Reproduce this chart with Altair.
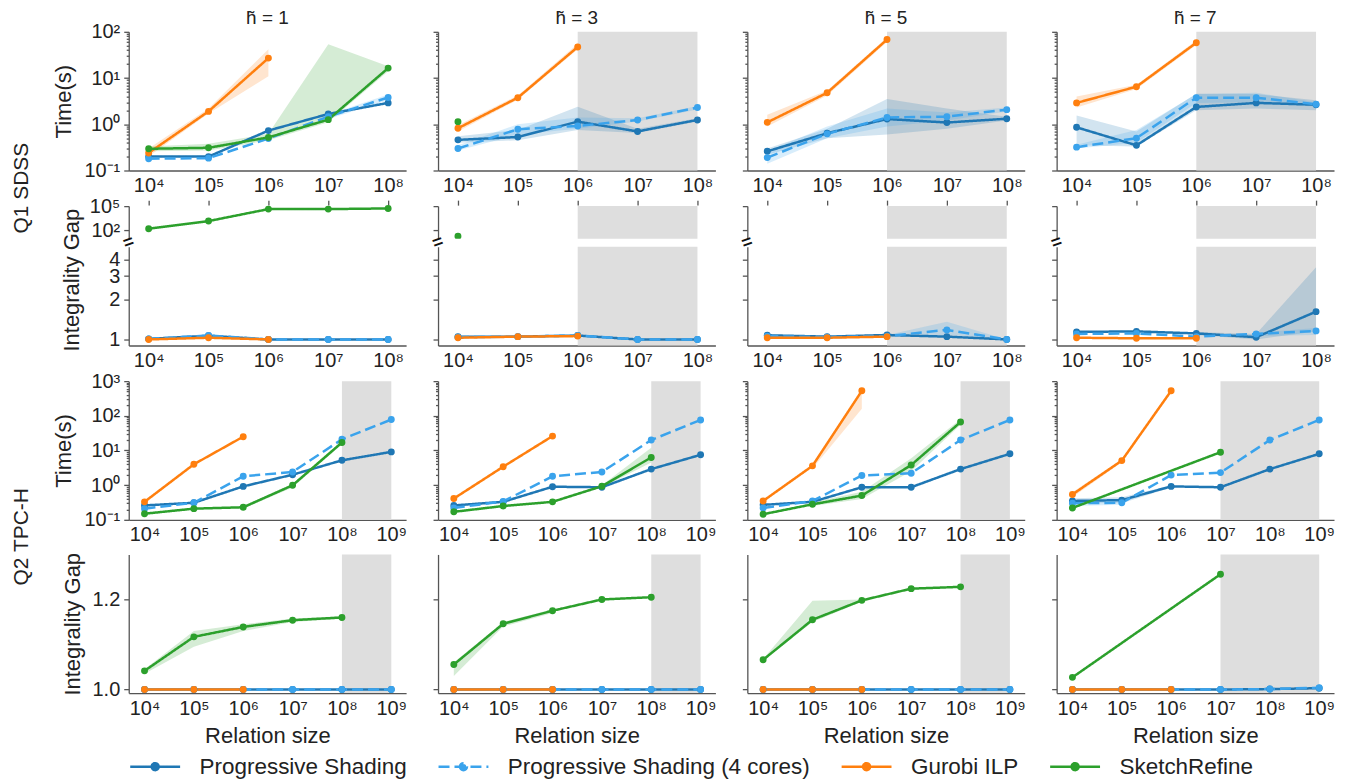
import altair as alt
import pandas as pd

# ---------------- data ----------------
SERIES = ["Progressive Shading", "Progressive Shading (4 cores)", "Gurobi ILP", "SketchRefine"]
COLORS = ["#1f77b4", "#3aa3ec", "#ff7f0e", "#2ca02c"]
DASHES = [[1, 0], [11, 5], [1, 0], [1, 0]]
COL_TITLES = ["h\u0303 = 1", "h\u0303 = 3", "h\u0303 = 5", "h\u0303 = 7"]
ROW_TITLES = ["Q1 SDSS", "Q2 TPC-H"]
Q1_SIZES = [1e4, 1e5, 1e6, 1e7, 1e8]
Q2_SIZES = [1e4, 1e5, 1e6, 1e7, 1e8, 1e9]

# Q1 SDSS - time (s), one list per column
Q1_TIME_PS = [[0.20, 0.20, 0.73, 1.67, 2.9],
              [0.46, 0.53, 1.14, 0.70, 1.24],
              [0.26, 0.64, 1.30, 1.09, 1.32],
              [0.86, 0.35, 2.37, 2.9, 2.65]]
Q1_TIME_PS4 = [[0.18, 0.185, 0.49, 1.46, 3.8],
               [0.30, 0.78, 0.92, 1.24, 2.3],
               [0.19, 0.62, 1.4, 1.46, 2.07],
               [0.32, 0.50, 3.76, 3.76, 2.7]]
Q1_TIME_ILP = [[0.24, 1.9, 27, None, None],
               [0.82, 3.76, 47, None, None],
               [1.1, 4.8, 68, None, None],
               [2.9, 6.5, 58, None, None]]
Q1_TIME_SR = [[0.295, 0.31, 0.52, 1.26, 16.4],
              [1.14, None, None, None, None],
              [None, None, None, None, None],
              [None, None, None, None, None]]

# Q1 SDSS - integrality gap
Q1_GAP_PS = [[1.01, 1.066, 1.0, 1.0, 1.0],
             [1.047, 1.05, 1.07, 1.0, 1.0],
             [1.075, 1.05, 1.08, 1.05, 1.0],
             [1.14, 1.15, 1.11, 1.04, 1.62]]
Q1_GAP_PS4 = [[1.01, 1.07, 1.0, 1.0, 1.0],
              [1.04, 1.05, 1.07, 1.0, 1.0],
              [1.06, 1.04, 1.06, 1.18, 1.0],
              [1.10, 1.11, 1.05, 1.10, 1.16]]
Q1_GAP_ILP = [[1.0, 1.03, 1.0, None, None],
              [1.03, 1.05, 1.06, None, None],
              [1.03, 1.03, 1.05, None, None],
              [1.03, 1.02, 1.02, None, None]]
Q1_GAP_SR = [[166, 1450, 43000, 43000, 52000],
             [20, None, None, None, None],
             [None, None, None, None, None],
             [None, None, None, None, None]]

# Q2 TPC-H - time (s)
Q2_TIME_PS = [[0.26, 0.31, 0.92, 2.0, 5.2, 9.1],
              [0.26, 0.33, 0.90, 0.87, 2.9, 7.5],
              [0.27, 0.33, 0.87, 0.87, 2.9, 8.0],
              [0.35, 0.37, 0.92, 0.87, 2.9, 8.0]]
Q2_TIME_PS4 = [[0.21, 0.31, 1.8, 2.4, 21, 78],
               [0.22, 0.34, 1.8, 2.4, 20, 76],
               [0.22, 0.35, 1.9, 2.2, 20, 76],
               [0.30, 0.31, 1.95, 2.3, 20, 76]]
Q2_TIME_ILP = [[0.33, 4.0, 25, None, None, None],
               [0.41, 3.4, 26, None, None, None],
               [0.35, 3.6, 525, None, None, None],
               [0.54, 5.1, 525, None, None, None]]
Q2_TIME_SR = [[0.15, 0.21, 0.23, 0.99, 17, None],
              [0.17, 0.25, 0.33, 0.93, 6.3, None],
              [0.145, 0.28, 0.5, 3.8, 66, None],
              [0.22, None, None, 8.9, None, None]]

# Q2 TPC-H - integrality gap
Q2_GAP_PS = [[1.0, 1.0, 1.0, 1.0, 1.0, 1.0],
             [1.0, 1.0, 1.0, 1.0, 1.0, 1.0],
             [1.0, 1.0, 1.0, 1.0, 1.0, 1.0],
             [1.0, 1.0, 1.0, 1.0, 1.001, 1.003]]
Q2_GAP_PS4 = [[1.0, 1.0, 1.0, 1.0, 1.0, 1.0],
              [1.0, 1.0, 1.0, 1.0, 1.0, 1.0],
              [1.0, 1.0, 1.0, 1.0, 1.0, 1.0],
              [1.0, 1.0, 1.0, 1.0, 1.001, 1.004]]
Q2_GAP_ILP = [[1.0, 1.0, 1.0, None, None, None],
              [1.0, 1.0, 1.0, None, None, None],
              [1.0, 1.0, 1.0, None, None, None],
              [1.0, 1.0, 1.0, None, None, None]]
Q2_GAP_SR = [[1.0415, 1.117, 1.139, 1.154, 1.16, None],
             [1.0555, 1.146, 1.175, 1.2, 1.205, None],
             [1.066, 1.155, 1.198, 1.224, 1.228, None],
             [1.027, None, None, 1.256, None, None]]

# shaded (unavailable) ranges per column
Q1_SHADE = [None, (1e6, 1e8), (1e6, 1e8), (1e6, 1e8)]
Q2_SHADE = [(1e8, 1e9), (1e8, 1e9), (1e8, 1e9), (1e7, 1e9)]

# confidence bands: (panel, column, series index, size, low, high)
BANDS = [
    ("q1t", 0, 2, 1e4, 0.2, 0.3), ("q1t", 0, 2, 1e5, 1.7, 2.2), ("q1t", 0, 2, 1e6, 11, 42),
    ("q1t", 0, 3, 1e4, 0.26, 0.33), ("q1t", 0, 3, 1e5, 0.27, 0.38), ("q1t", 0, 3, 1e6, 0.45, 0.62),
    ("q1t", 0, 3, 1e7, 1.1, 54), ("q1t", 0, 3, 1e8, 14, 18),
    ("q1t", 0, 1, 1e7, 1.3, 1.6), ("q1t", 0, 1, 1e8, 3.3, 4.4),
    ("q1t", 1, 2, 1e4, 0.7, 0.95), ("q1t", 1, 2, 1e5, 3.4, 4.2), ("q1t", 1, 2, 1e6, 42, 55),
    ("q1t", 1, 0, 1e4, 0.4, 0.55), ("q1t", 1, 0, 1e5, 0.45, 0.75), ("q1t", 1, 0, 1e6, 0.75, 2.4),
    ("q1t", 1, 0, 1e7, 0.65, 0.8), ("q1t", 1, 0, 1e8, 1.15, 1.35),
    ("q1t", 1, 1, 1e4, 0.27, 0.35), ("q1t", 1, 1, 1e5, 0.6, 1.0), ("q1t", 1, 1, 1e6, 0.8, 1.4),
    ("q1t", 1, 1, 1e7, 1.15, 1.35), ("q1t", 1, 1, 1e8, 2.1, 2.5),
    ("q1t", 2, 2, 1e4, 0.9, 1.6), ("q1t", 2, 2, 1e5, 4.2, 5.4), ("q1t", 2, 2, 1e6, 60, 75),
    ("q1t", 2, 0, 1e4, 0.22, 0.3), ("q1t", 2, 0, 1e5, 0.5, 0.8), ("q1t", 2, 0, 1e6, 0.6, 3.5),
    ("q1t", 2, 0, 1e7, 0.8, 2.2), ("q1t", 2, 0, 1e8, 1.2, 1.45),
    ("q1t", 2, 1, 1e4, 0.14, 0.26), ("q1t", 2, 1, 1e5, 0.5, 0.9), ("q1t", 2, 1, 1e6, 0.9, 2.2),
    ("q1t", 2, 1, 1e7, 1.2, 1.8), ("q1t", 2, 1, 1e8, 1.9, 2.3),
    ("q1t", 3, 2, 1e4, 2.3, 4.0), ("q1t", 3, 2, 1e5, 5.8, 7.2), ("q1t", 3, 2, 1e6, 52, 65),
    ("q1t", 3, 0, 1e4, 0.35, 1.55), ("q1t", 3, 0, 1e5, 0.33, 0.7), ("q1t", 3, 0, 1e6, 2.0, 4.6),
    ("q1t", 3, 0, 1e7, 2.2, 4.5), ("q1t", 3, 0, 1e8, 2.0, 3.3),
    ("q1t", 3, 1, 1e4, 0.3, 0.36), ("q1t", 3, 1, 1e5, 0.4, 0.75), ("q1t", 3, 1, 1e6, 2.9, 4.5),
    ("q1t", 3, 1, 1e7, 3.0, 4.8), ("q1t", 3, 1, 1e8, 2.4, 3.0),
    ("q1g", 2, 1, 1e6, 1.04, 1.08), ("q1g", 2, 1, 1e7, 1.08, 1.36), ("q1g", 2, 1, 1e8, 1.0, 1.0),
    ("q1g", 3, 0, 1e6, 1.08, 1.14), ("q1g", 3, 0, 1e7, 1.0, 1.1), ("q1g", 3, 0, 1e8, 1.15, 3.5),
    ("q1g", 3, 1, 1e7, 1.06, 1.12), ("q1g", 3, 1, 1e8, 1.08, 1.22),
    ("q2t", 0, 3, 1e6, 0.21, 0.25), ("q2t", 0, 3, 1e7, 0.85, 1.1), ("q2t", 0, 3, 1e8, 15, 19),
    ("q2t", 1, 3, 1e7, 0.85, 1.0), ("q2t", 1, 3, 1e8, 4.5, 12),
    ("q2t", 2, 2, 1e5, 3.0, 4.2), ("q2t", 2, 2, 1e6, 160, 540),
    ("q2t", 2, 3, 1e5, 0.25, 0.32), ("q2t", 2, 3, 1e6, 0.4, 0.65), ("q2t", 2, 3, 1e7, 2.5, 6),
    ("q2t", 2, 3, 1e8, 55, 80),
    ("q2t", 3, 0, 1e4, 0.3, 0.42), ("q2t", 3, 0, 1e5, 0.3, 0.45), ("q2t", 3, 0, 1e6, 0.85, 1.0),
    ("q2t", 3, 1, 1e4, 0.25, 0.33), ("q2t", 3, 1, 1e5, 0.27, 0.34),
    ("q2t", 3, 2, 1e4, 0.45, 0.62), ("q2t", 3, 2, 1e5, 4.6, 5.6),
    ("q2g", 0, 3, 1e4, 1.035, 1.045), ("q2g", 0, 3, 1e5, 1.095, 1.13), ("q2g", 0, 3, 1e6, 1.13, 1.145),
    ("q2g", 0, 3, 1e7, 1.15, 1.158), ("q2g", 0, 3, 1e8, 1.157, 1.163),
    ("q2g", 1, 3, 1e4, 1.03, 1.06), ("q2g", 1, 3, 1e5, 1.14, 1.15), ("q2g", 1, 3, 1e6, 1.17, 1.178),
    ("q2g", 2, 3, 1e4, 1.064, 1.068), ("q2g", 2, 3, 1e5, 1.15, 1.197), ("q2g", 2, 3, 1e6, 1.195, 1.2),
]

# ---------------- styling ----------------
FONT = "Liberation Sans"
TXT = "#222222"
W = 278
ROW_GAP = 7.7
EXT = 28  # empty band above plot area in extended rows

SUP = "['\u207b\u00b9','\u2070','\u00b9','\u00b2','\u00b3','\u2074','\u2075','\u2076','\u2077','\u2078','\u2079']"
IS_POW = "abs(log(datum.value)/LN10 - round(log(datum.value)/LN10)) < 0.001"
POW_LABEL = IS_POW + " ? '10' + " + SUP + "[round(log(datum.value)/LN10) + 1] : ''"

CSCALE = alt.Scale(domain=SERIES, range=COLORS)
DSCALE = alt.Scale(domain=SERIES, range=DASHES)
LEG = alt.Legend(title=None)
HEX = dict(zip(SERIES, COLORS))
LEGEND_SYMBOL = ("M-1,0H1"
                 "M-0.14,0A0.14,0.14,0,1,0,0.14,0A0.14,0.14,0,1,0,-0.14,0"
                 "M-0.06,0A0.06,0.06,0,1,0,0.06,0A0.06,0.06,0,1,0,-0.06,0")


def minor_values(lo_exp, hi_exp):
    vals = [m * 10.0 ** e for e in range(lo_exp, hi_exp) for m in range(1, 10)]
    return vals + [10.0 ** hi_exp]


def frame(lists_by_series, col, sizes):
    rows = []
    for s, lists in zip(SERIES, lists_by_series):
        for x, v in zip(sizes, lists[col]):
            if v is not None:
                rows.append({"series": s, "hex": HEX[s], "x": x, "y": v})
    return pd.DataFrame(rows)


def band_frame(key, col):
    rows = [{"series": SERIES[si], "hex": COLORS[si], "x": x, "lo": lo, "hi": hi}
            for (k, c, si, x, lo, hi) in BANDS if k == key and c == col]
    rows.sort(key=lambda r: (SERIES.index(r["series"]), r["x"]))
    return pd.DataFrame(rows)


def y_axis(first, values, label_expr=None, fmt=None, title=None, title_x=-65,
           minor=False, title_y=None):
    kw = dict(values=values, grid=False, labelOverlap=False, labelPadding=4,
              labels=first, domain=True)
    if minor:
        kw["tickSize"] = {"condition": {"test": IS_POW, "value": 5}, "value": 2.5}
    else:
        kw["tickSize"] = 5
    if label_expr:
        kw["labelExpr"] = label_expr
    if fmt:
        kw["format"] = fmt
    if first and title:
        kw.update(title=title, titleX=title_x, titleBaseline="middle", titleAngle=270)
        if title_y is not None:
            kw["titleY"] = title_y
    else:
        kw["title"] = None
    return alt.Axis(**kw)


def x_axis(sizes, mode, title=None, top_offset=0):
    if mode == "toptick":
        return alt.Axis(orient="top", labels=False, domain=False, ticks=True, tickSize=5,
                        values=sizes, title=None, grid=False, offset=top_offset)
    kw = dict(values=sizes, labelExpr=POW_LABEL, ticks=False, grid=False, labelFlush=False,
              labelOverlap=False, labelPadding=5)
    if title:
        kw.update(title=title, titlePadding=7)
    else:
        kw["title"] = None
    return alt.Axis(**kw)


def text_layer(label, x, y, size, angle=0):
    return alt.Chart(pd.DataFrame({"t": [label]})).mark_text(
        fontSize=size, font=FONT, angle=angle, color=TXT, align="center",
        baseline="middle").encode(text="t:N", x=alt.value(x), y=alt.value(y))


def panel(key, col, lists, sizes, xdom, ydom, ytype, plot_h, ext, yaxis, xmode,
          shade=None, title=None, brk=False, xtitle=None, row_label=None, row_label_y=0):
    view_h = plot_h + ext
    xs = alt.Scale(type="log", domain=xdom, nice=False)
    if ytype == "log":
        ys = alt.Scale(type="log", domain=ydom, nice=False, range=[view_h, ext])
    else:
        ys = alt.Scale(type="linear", domain=ydom, nice=False, zero=False, range=[view_h, ext])
    xa = x_axis(sizes, xmode, xtitle, top_offset=-(ext - 1))
    layers = []
    if shade is not None:
        sd = pd.DataFrame({"x0": [shade[0]], "x1": [shade[1]]})
        layers.append(alt.Chart(sd).mark_rect(color="#dedede").encode(
            x=alt.X("x0:Q", scale=xs, axis=xa), x2="x1:Q",
            y=alt.value(ext), y2=alt.value(view_h)))
    bd = band_frame(key, col)
    if len(bd):
        layers.append(alt.Chart(bd).mark_area(opacity=0.2, clip=True).encode(
            x=alt.X("x:Q", scale=xs, axis=xa),
            y=alt.Y("lo:Q", scale=ys, axis=yaxis), y2="hi:Q",
            color=alt.Color("hex:N", scale=None),
            detail="series:N"))
    df = frame(lists, col, sizes)
    base = alt.Chart(df).encode(
        x=alt.X("x:Q", scale=xs, axis=xa),
        y=alt.Y("y:Q", scale=ys, axis=yaxis))
    layers.append(base.mark_line(strokeWidth=2.5, clip=True, opacity=1).encode(
        color=alt.Color("series:N", scale=CSCALE, legend=LEG),
        strokeDash=alt.StrokeDash("series:N", scale=DSCALE, legend=LEG)))
    layers.append(base.mark_circle(size=48, opacity=1, clip=True).encode(
        color=alt.Color("hex:N", scale=None)))
    if brk:
        layers.append(alt.Chart(pd.DataFrame({"t": ["="]})).mark_text(
            fontSize=18, fontWeight="bold", angle=340, color="#111").encode(
            text="t:N", x=alt.value(0), y=alt.value(-4)))
    if row_label:
        layers.append(text_layer(row_label, -107, row_label_y, 21, angle=270))
    if title:
        layers.append(text_layer(title, W / 2, -14, 19))
    return alt.layer(*layers).properties(width=W, height=view_h)


Q1T = [Q1_TIME_PS, Q1_TIME_PS4, Q1_TIME_ILP, Q1_TIME_SR]
Q1G = [Q1_GAP_PS, Q1_GAP_PS4, Q1_GAP_ILP, Q1_GAP_SR]
Q2T = [Q2_TIME_PS, Q2_TIME_PS4, Q2_TIME_ILP, Q2_TIME_SR]
Q2G = [Q2_GAP_PS, Q2_GAP_PS4, Q2_GAP_ILP, Q2_GAP_SR]

X1 = [10 ** 3.667, 10 ** 8.3]
X2 = [10 ** 3.68, 10 ** 9.3]

rows = [[], [], [], [], []]
for c in range(4):
    first = c == 0
    rows[0].append(panel("q1t", c, Q1T, Q1_SIZES, X1, [0.1, 100], "log", 139, 0,
                         y_axis(first, minor_values(-1, 2), POW_LABEL, title="Time(s)", minor=True),
                         "bottom", shade=Q1_SHADE[c], title=COL_TITLES[c]))
    rows[1].append(panel("q1gtop", c, Q1G, Q1_SIZES, X1, [10, 100000], "log", 32.6, EXT,
                         y_axis(first, [100, 100000], POW_LABEL),
                         "toptick", shade=Q1_SHADE[c],
                         row_label=ROW_TITLES[0] if first else None, row_label_y=10))
    rows[2].append(panel("q1g", c, Q1G, Q1_SIZES, X1, [0.9, 5], "log", 99, 0,
                         y_axis(first, [1, 2, 3, 4], fmt="d", title="Integrality Gap",
                                title_x=-57, title_y=33),
                         "bottom", shade=Q1_SHADE[c], brk=True))
    rows[3].append(panel("q2t", c, Q2T, Q2_SIZES, X2, [0.1, 1000], "log", 139, EXT,
                         y_axis(first, minor_values(-1, 3), POW_LABEL, title="Time(s)", minor=True),
                         "bottom", shade=Q2_SHADE[c],
                         row_label=ROW_TITLES[1] if first else None, row_label_y=184))
    rows[4].append(panel("q2g", c, Q2G, Q2_SIZES, X2, [0.992, 1.3], "linear", 139, 27,
                         y_axis(first, [1.0, 1.2], fmt=".1f", title="Integrality Gap", title_x=-56),
                         "bottom", shade=Q2_SHADE[c], xtitle="Relation size"))

panels = [p for r in rows for p in r]

chart = alt.concat(*panels, columns=4, spacing={"row": ROW_GAP, "column": 32},
                   bounds="flush").properties(
    padding={"left": 3, "top": 0, "right": 4, "bottom": 0}
).configure_view(stroke=None).configure_axis(
    domainColor="#555555", domainWidth=1.3, tickColor="#555555", tickWidth=1.3,
    labelFont=FONT, labelFontSize=20, labelColor=TXT,
    titleFont=FONT, titleFontSize=22, titleFontWeight="normal", titleColor=TXT, grid=False,
).configure_legend(
    orient="none", legendX=0, legendY=710, direction="horizontal", columns=4,
    symbolType=LEGEND_SYMBOL, symbolSize=2500, symbolStrokeWidth=2.5, symbolOpacity=1,
    labelFontSize=22.5, labelFont=FONT, labelColor=TXT, labelOffset=18,
    columnPadding=26, labelLimit=500, padding=0,
)

chart.save("out.html", embed_options={"renderer": "svg", "actions": False})
